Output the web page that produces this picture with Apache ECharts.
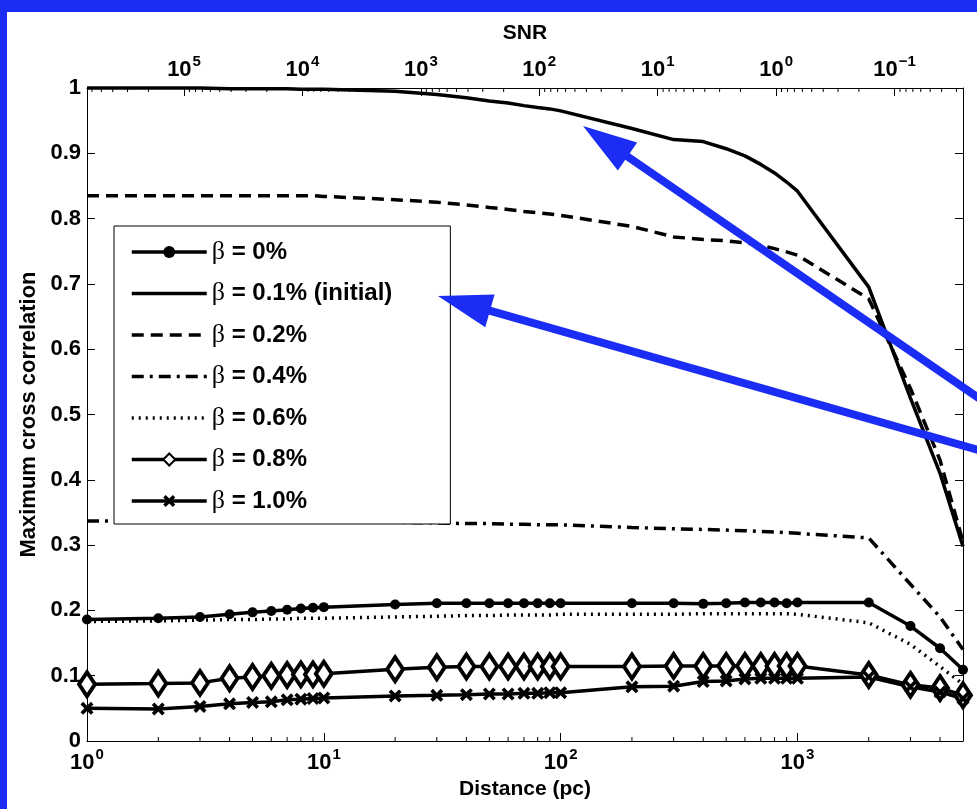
<!DOCTYPE html>
<html>
<head>
<meta charset="utf-8">
<script src="https://cdn.jsdelivr.net/npm/echarts@6/dist/echarts.min.js"></script>
<style>
  html, body { margin: 0; padding: 0; width: 977px; height: 809px; background: #1b2cf4; overflow: hidden; }
  #chart { position: absolute; left: 7px; top: 12px; width: 970px; height: 797px; background: #fff; }
</style>
</head>
<body>
<div id="chart"></div>
<script>
// Source distances (pc) at which the cross correlation was evaluated
const distance = [1, 2, 3, 4, 5, 6, 7, 8, 9, 10,
  20, 30, 40, 50, 60, 70, 80, 90, 100,
  200, 300, 400, 500, 600, 700, 800, 900, 1000,
  2000, 3000, 4000, 5000];

// Maximum cross correlation for each beta
const beta00 = [0.186, 0.188, 0.190, 0.194, 0.197, 0.199, 0.201, 0.203, 0.204, 0.205,
  0.209, 0.211, 0.211, 0.211, 0.211, 0.211, 0.211, 0.211, 0.211,
  0.211, 0.211, 0.210, 0.211, 0.212, 0.212, 0.212, 0.211, 0.212,
  0.212, 0.176, 0.142, 0.109];
const beta01 = [1.000, 1.000, 1.000, 0.999, 0.999, 0.999, 0.999, 0.998, 0.998, 0.998,
  0.995, 0.990, 0.985, 0.980, 0.977, 0.973, 0.970, 0.968, 0.965,
  0.938, 0.921, 0.918, 0.907, 0.896, 0.883, 0.870, 0.856, 0.842,
  0.695, 0.525, 0.410, 0.298];
const beta02 = [0.835, 0.835, 0.835, 0.835, 0.835, 0.835, 0.835, 0.835, 0.835, 0.834,
  0.829, 0.825, 0.821, 0.817, 0.814, 0.811, 0.809, 0.807, 0.805,
  0.788, 0.772, 0.768, 0.766, 0.763, 0.759, 0.754, 0.749, 0.744,
  0.677, 0.540, 0.430, 0.305];
const beta04 = [0.337, 0.337, 0.337, 0.337, 0.336, 0.336, 0.336, 0.336, 0.336, 0.336,
  0.335, 0.334, 0.333, 0.333, 0.332, 0.332, 0.331, 0.331, 0.331,
  0.327, 0.325, 0.324, 0.323, 0.322, 0.321, 0.320, 0.319, 0.318,
  0.311, 0.240, 0.190, 0.140];
const beta06 = [0.183, 0.184, 0.185, 0.186, 0.186, 0.187, 0.187, 0.188, 0.188, 0.188,
  0.190, 0.191, 0.192, 0.192, 0.193, 0.193, 0.193, 0.193, 0.194,
  0.194, 0.194, 0.195, 0.195, 0.195, 0.195, 0.195, 0.195, 0.194,
  0.181, 0.148, 0.114, 0.087];
const beta08 = [0.087, 0.088, 0.089, 0.096, 0.098, 0.100, 0.101, 0.102, 0.102, 0.103,
  0.110, 0.113, 0.114, 0.114, 0.114, 0.114, 0.114, 0.114, 0.114,
  0.114, 0.115, 0.115, 0.115, 0.115, 0.115, 0.115, 0.115, 0.115,
  0.101, 0.086, 0.081, 0.070];
const beta10 = [0.050, 0.049, 0.053, 0.057, 0.059, 0.060, 0.063, 0.064, 0.065, 0.066,
  0.069, 0.070, 0.071, 0.072, 0.072, 0.073, 0.073, 0.074, 0.074,
  0.083, 0.084, 0.091, 0.092, 0.095, 0.096, 0.096, 0.096, 0.096,
  0.098, 0.083, 0.075, 0.065];

const seriesNames = ['β = 0%', 'β = 0.1% (initial)', 'β = 0.2%', 'β = 0.4%',
  'β = 0.6%', 'β = 0.8%', 'β = 1.0%'];

// Axis ranges: distance 1..5000 pc, SNR falls as 1/d^2 from its value at 1 pc
const distRange = [1, 5000];
const snrAtOnePc = 6.6e5;
const snrRange = [snrAtOnePc / (5000 * 5000), snrAtOnePc];
const corrTicks = [0, 1, 0.1];

// Minor (log) tick positions
const distMinor = [2, 3, 4, 5, 6, 7, 8, 9, 20, 30, 40, 50, 60, 70, 80, 90,
  200, 300, 400, 500, 600, 700, 800, 900, 2000, 3000, 4000];
const snrMinor = [0.03, 0.04, 0.05, 0.06, 0.07, 0.08, 0.09,
  0.2, 0.3, 0.4, 0.5, 0.6, 0.7, 0.8, 0.9,
  2, 3, 4, 5, 6, 7, 8, 9,
  20, 30, 40, 50, 60, 70, 80, 90,
  200, 300, 400, 500, 600, 700, 800, 900,
  2000, 3000, 4000, 5000, 6000, 7000, 8000, 9000,
  20000, 30000, 40000, 50000, 60000, 70000, 80000, 90000,
  200000, 300000, 400000, 500000, 600000];

const FONT = 'Liberation Sans, Arial, Helvetica, sans-serif';
const INK = '#000';
const BLUE = '#1b2cf4';
const LW = 3.5;

const chart = echarts.init(document.getElementById('chart'), null, { renderer: 'canvas' });

function pow10Label(v) {
  const lg = Math.log10(v);
  const e = Math.round(lg);
  if (Math.abs(lg - e) > 1e-6) return '';
  return '{b|10}{e|' + (e < 0 ? '\u2212' + (-e) : e) + '}';
}
const powRich = {
  b: { fontFamily: FONT, fontWeight: 'bold', fontSize: 22, color: INK },
  e: { fontFamily: FONT, fontWeight: 'bold', fontSize: 15, color: INK, padding: [0, 0, 16, 1] }
};

function logAxis(extra) {
  return Object.assign({
    type: 'log',
    logBase: 10,
    axisLine: { show: true, onZero: false, lineStyle: { color: INK, width: 1 } },
    axisTick: { show: true, inside: true, length: 8, lineStyle: { color: INK, width: 1 } },
    minorTick: { show: false },
    splitLine: { show: false },
    nameLocation: 'middle',
    nameTextStyle: { fontFamily: FONT, fontWeight: 'bold', fontSize: 21, color: INK }
  }, extra);
}

function valueAxis(extra) {
  return Object.assign({
    type: 'value',
    min: corrTicks[0], max: corrTicks[1], interval: corrTicks[2],
    axisLine: { show: true, onZero: false, lineStyle: { color: INK, width: 1 } },
    axisTick: { show: true, inside: true, length: 8, lineStyle: { color: INK, width: 1 } },
    splitLine: { show: false }
  }, extra);
}

function pairs(vals) { return distance.map((d, i) => [d, vals[i]]); }

function lineSeries(name, vals, lineType, symbol) {
  const s = {
    name: name,
    type: 'line',
    xAxisIndex: 0, yAxisIndex: 0,
    data: pairs(vals),
    clip: false,
    animation: false,
    lineStyle: { color: INK, width: LW, type: lineType },
    itemStyle: { color: INK },
    symbol: 'none',
    emphasis: { disabled: true }
  };
  return Object.assign(s, symbol || {});
}

// Short inward minor tick drawn at the axis edge through the axis scale
function minorTicks(values, xAxisIndex, atY, dir) {
  return {
    type: 'custom',
    xAxisIndex: xAxisIndex, yAxisIndex: 0,
    data: values.map(v => [v, atY]),
    silent: true, clip: false, animation: false,
    renderItem: function (params, api) {
      const p = api.coord([api.value(0), api.value(1)]);
      return {
        type: 'line',
        shape: { x1: p[0], y1: p[1], x2: p[0], y2: p[1] + dir * 4 },
        style: { stroke: INK, lineWidth: 1 }
      };
    }
  };
}

// Blue annotation arrow: filled head at the tip, thick shaft running off to the right
const OFF = [7, 12];
function arrow(tipPage, tailPage) {
  const tip = [tipPage[0] - OFF[0], tipPage[1] - OFF[1]];
  const tail = [tailPage[0] - OFF[0], tailPage[1] - OFF[1]];
  const dx = tail[0] - tip[0], dy = tail[1] - tip[1];
  const len = Math.sqrt(dx * dx + dy * dy);
  const ux = dx / len, uy = dy / len;
  const headLen = 54, half = 17;
  const bx = tip[0] + ux * headLen, by = tip[1] + uy * headLen;
  return [
    {
      type: 'line', z: 100,
      shape: { x1: bx - ux * 4, y1: by - uy * 4, x2: tail[0], y2: tail[1] },
      style: { stroke: BLUE, lineWidth: 8 }
    },
    {
      type: 'polygon', z: 100,
      shape: { points: [tip, [bx - uy * half, by + ux * half], [bx + uy * half, by - ux * half]] },
      style: { fill: BLUE }
    }
  ];
}

const symX = 'path://M0,2 L2,0 L5,3 L8,0 L10,2 L7,5 L10,8 L8,10 L5,7 L2,10 L0,8 L3,5 Z';

// Legend entries: series drawn without markers get an invisible legend symbol
const noMarker = { itemStyle: { opacity: 0 } };
const legendData = [
  { name: seriesNames[0] },
  Object.assign({ name: seriesNames[1] }, noMarker),
  Object.assign({ name: seriesNames[2] }, noMarker),
  Object.assign({ name: seriesNames[3] }, noMarker),
  Object.assign({ name: seriesNames[4] }, noMarker),
  { name: seriesNames[5] },
  { name: seriesNames[6] }
];

const option = {
  backgroundColor: '#fff',
  animation: false,
  grid: { left: 80, right: 14, top: 76, bottom: 68, containLabel: false },
  xAxis: [
    logAxis({
      position: 'bottom', min: distRange[0], max: distRange[1],
      axisLabel: { formatter: pow10Label, rich: powRich, color: INK, margin: 6 },
      name: 'Distance (pc)', nameGap: 31
    }),
    logAxis({
      position: 'top', min: snrRange[0], max: snrRange[1], inverse: true, splitNumber: 8,
      axisLabel: { formatter: pow10Label, rich: powRich, color: INK, margin: 3 },
      name: 'SNR', nameGap: 44
    })
  ],
  yAxis: [
    valueAxis({
      position: 'left',
      axisLabel: { fontFamily: FONT, fontWeight: 'bold', fontSize: 22, color: INK, margin: 6 },
      name: 'Maximum cross correlation', nameLocation: 'middle', nameGap: 44,
      nameTextStyle: { fontFamily: FONT, fontWeight: 'bold', fontSize: 22, color: INK }
    }),
    valueAxis({ position: 'right', axisLabel: { show: false } })
  ],
  legend: {
    data: legendData,
    orient: 'vertical',
    left: 114 - OFF[0], top: 226 - OFF[1],
    itemWidth: 75, itemHeight: 15, itemGap: 15.5,
    padding: [13, 58, 10, 16],
    backgroundColor: '#fff',
    borderColor: INK, borderWidth: 1, borderRadius: 0,
    selectedMode: false,
    lineStyle: { width: LW },
    formatter: function (name) { return '{g|β}{t|' + name.slice(1) + '}'; },
    textStyle: {
      fontFamily: FONT, fontWeight: 'bold', fontSize: 24, color: INK, lineHeight: 24,
      rich: {
        g: { fontFamily: 'Liberation Serif, DejaVu Serif, serif', fontWeight: 'normal', fontSize: 26, color: INK, lineHeight: 24 },
        t: { fontFamily: FONT, fontWeight: 'bold', fontSize: 24, color: INK, lineHeight: 24 }
      }
    }
  },
  series: [
    lineSeries(seriesNames[0], beta00, 'solid', { symbol: 'circle', symbolSize: 10, showSymbol: true }),
    lineSeries(seriesNames[1], beta01, 'solid'),
    lineSeries(seriesNames[2], beta02, [12, 7]),
    lineSeries(seriesNames[3], beta04, [12, 6, 3, 6]),
    lineSeries(seriesNames[4], beta06, [2, 5]),
    lineSeries(seriesNames[5], beta08, 'solid', {
      symbol: 'diamond', symbolSize: [16, 24], showSymbol: true,
      itemStyle: { color: '#fff', borderColor: INK, borderWidth: 4 }
    }),
    lineSeries(seriesNames[6], beta10, 'solid', { symbol: symX, symbolSize: 13, showSymbol: true }),
    minorTicks(distMinor, 0, 0, -1),
    minorTicks(snrMinor, 1, 1, 1)
  ],
  graphic: [].concat(
    arrow([583, 126], [1000, 412.7]),
    arrow([438, 296], [1000, 456.2])
  )
};

chart.setOption(option);
</script>
</body>
</html>
